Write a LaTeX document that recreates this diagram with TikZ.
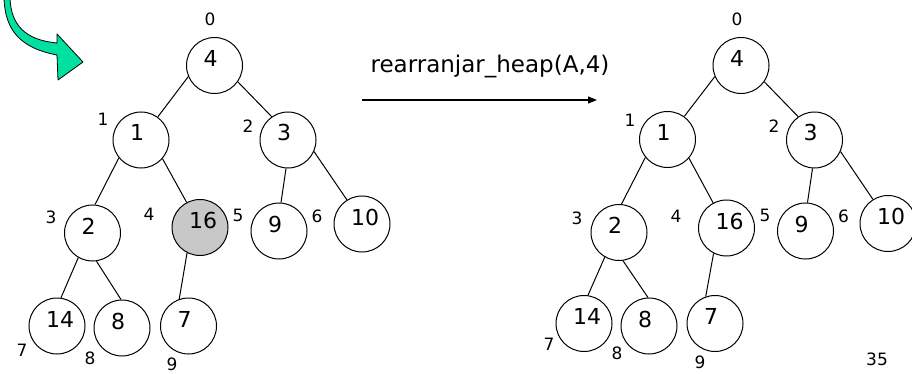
\documentclass[tikz,border=0pt]{standalone}
\usepackage{fontspec}
\setmainfont{DejaVu Sans}
\usetikzlibrary{arrows.meta}
\definecolor{heapgray}{RGB}{200,200,200}
\definecolor{seagreen}{RGB}{0,224,160}
\tikzset{
  vert/.style={circle, draw, line width=1pt, minimum size=56pt, inner sep=0pt, fill=white},
  key/.style={anchor=base west, inner sep=0pt, font=\fontsize{22}{22}\selectfont},
  idx/.style={inner sep=0pt, font=\fontsize{17}{17}\selectfont},
  edge/.style={line width=1pt},
}
% value written inside a heap vertex
\newcommand\hkey[3]{\node[key] (#1) at ([xshift=-11pt,yshift=-1pt]#2.center) {#3};}
\begin{document}
\begin{tikzpicture}[x=1pt,y=-1pt]
\useasboundingbox (0,0) rectangle (912,374);

% curved pointer in the corner
\draw[fill=seagreen, line width=0.8pt, line join=round]
  (4,-2) .. controls (5,30) and (20,48) .. (57,55) -- (58,80) -- (83,62) -- (57,34) -- (57,43)
  .. controls (25,40) and (11,25) .. (10,-2);

% ---- heap before the call ----
\node[vert] (L0) at (214.5,65.5) {};
\node[vert] (L1) at (141,140) {};
\node[vert] (L2) at (288,140) {};
\node[vert] (L3) at (92.5,233) {};
\node[vert, fill=heapgray] (L4) at (200,227.5) {};
\node[vert] (L5) at (279,231) {};
\node[vert] (L6) at (362,224) {};
\node[vert] (L7) at (57,326) {};
\node[vert] (L8) at (122,328) {};
\node[vert] (L9) at (188.5,326) {};

\hkey{L0k}{L0}{4} \hkey{L1k}{L1}{1} \hkey{L2k}{L2}{3} \hkey{L3k}{L3}{2}
\hkey{L4k}{L4}{16} \hkey{L5k}{L5}{9} \hkey{L6k}{L6}{10} \hkey{L7k}{L7}{14}
\hkey{L8k}{L8}{8} \hkey{L9k}{L9}{7}

\draw[edge] (L0.203.7) -- (L1.54);
\draw[edge] (L0.325) -- (L2.125);
\draw[edge] (L1.219) -- (L3.85);
\draw[edge] (L1.319) -- (L4.118);
\draw[edge] (L2.266) -- (L5.86);
\draw[edge] (L2.336.6) -- (L6.122.5);
\draw[edge] (L3.240.7) -- (L7.82);
\draw[edge] (L3.278) -- (L8.92.7);
\draw[edge] (L4.243) -- (L9.109.6);

\node[idx] (Li0) at (210,19) {0};
\node[idx] (Li1) at (103,119) {1};
\node[idx] (Li2) at (248,126) {2};
\node[idx] (Li3) at (51,217) {3};
\node[idx] (Li4) at (149,214) {4};
\node[idx] (Li5) at (238,215) {5};
\node[idx] (Li6) at (317,216) {6};
\node[idx] (Li7) at (22,350) {7};
\node[idx] (Li8) at (90,358) {8};
\node[idx] (Li9) at (172,364) {9};

% ---- the call ----
\coordinate (cA) at (362,100);
\coordinate (cB) at (597,100);
\draw[line width=1.2pt, -{Triangle[length=9pt,width=7pt]}] (cA) -- (cB);
\node[anchor=base, inner sep=0pt, font=\fontsize{23}{23}\selectfont] (call) at (490,73) {rearranjar\_heap(A,4)};

% ---- heap after the call ----
\node[vert] (R0) at (741,65.5) {};
\node[vert] (R1) at (667.5,139.5) {};
\node[vert] (R2) at (814.5,140) {};
\node[vert] (R3) at (619,232.5) {};
\node[vert] (R4) at (726.5,228) {};
\node[vert] (R5) at (805.5,231) {};
\node[vert] (R6) at (888,223.5) {};
\node[vert] (R7) at (584,323.5) {};
\node[vert] (R8) at (649,326) {};
\node[vert] (R9) at (715,323.5) {};

\hkey{R0k}{R0}{4} \hkey{R1k}{R1}{1} \hkey{R2k}{R2}{3} \hkey{R3k}{R3}{2}
\hkey{R4k}{R4}{16} \hkey{R5k}{R5}{9} \hkey{R6k}{R6}{10} \hkey{R7k}{R7}{14}
\hkey{R8k}{R8}{8} \hkey{R9k}{R9}{7}

\draw[edge] (R0.203.7) -- (R1.54);
\draw[edge] (R0.325) -- (R2.125);
\draw[edge] (R1.219) -- (R3.85);
\draw[edge] (R1.319) -- (R4.118);
\draw[edge] (R2.266) -- (R5.86);
\draw[edge] (R2.336.6) -- (R6.122.5);
\draw[edge] (R3.240.7) -- (R7.82);
\draw[edge] (R3.278) -- (R8.92.7);
\draw[edge] (R4.243) -- (R9.109.6);

\node[idx] (Ri0) at (737,19) {0};
\node[idx] (Ri1) at (630,120) {1};
\node[idx] (Ri2) at (774,126) {2};
\node[idx] (Ri3) at (577,218) {3};
\node[idx] (Ri4) at (676,216) {4};
\node[idx] (Ri5) at (765,215) {5};
\node[idx] (Ri6) at (843.5,216) {6};
\node[idx] (Ri7) at (549,344) {7};
\node[idx] (Ri8) at (617,353) {8};
\node[idx] (Ri9) at (700,362) {9};

\node[idx] (page) at (877,359) {35};
\end{tikzpicture}
\end{document}
